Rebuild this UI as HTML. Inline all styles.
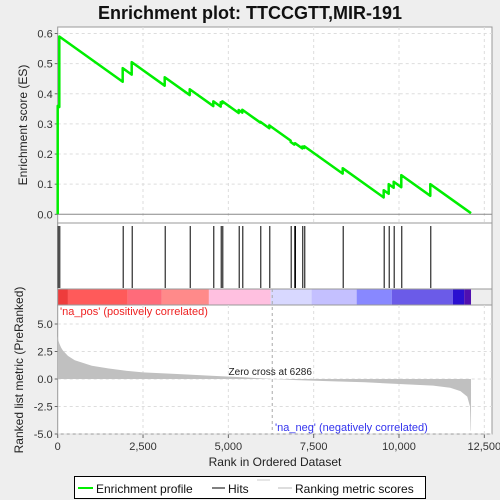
<!DOCTYPE html>
<html><head><meta charset="utf-8"><style>
body{margin:0;background:#eeeeee;}
svg{display:block;font-family:"Liberation Sans","DejaVu Sans",sans-serif;}
</style></head><body>
<svg id="chart" width="500" height="500" viewBox="0 0 500 500">
<rect x="0" y="0" width="500" height="500" fill="#eeeeee"/>
<text x="250" y="19" text-anchor="middle" font-size="18" font-weight="bold" fill="#111">Enrichment plot: TTCCGTT,MIR-191</text>
<g id="gtop"></g>
<g id="ghits"></g>
<g id="gbottom"></g>
<g>
<rect x="74.5" y="476.5" width="351" height="22" fill="#fff" stroke="#000"/>
<line x1="78" y1="488" x2="93" y2="488" stroke="#00ee00" stroke-width="2"/>
<text x="96" y="493" font-size="12" fill="#111">Enrichment profile</text>
<line x1="212" y1="488" x2="225" y2="488" stroke="#000" stroke-width="1"/>
<text x="228" y="493" font-size="12" fill="#111">Hits</text>
<line x1="257" y1="480" x2="270" y2="480" stroke="#ccc"/>
<line x1="278" y1="488" x2="292" y2="488" stroke="#bbb"/>
<text x="295" y="493" font-size="12" fill="#111">Ranking metric scores</text>
</g>
</svg>
<script>
const hitRanks=[0,47,1904,2168,3135,3868,4559,4776,4823,5303,5409,5936,6200,6826,6932,6952,7166,7225,8350,9551,9698,9844,10067,10917];
const esPeaks=[0.36,0.59,0.485,0.505,0.455,0.415,0.375,0.372,0.375,0.346,0.347,0.307,0.295,0.24,0.235,0.236,0.225,0.226,0.153,0.08,0.1,0.108,0.13,0.1];
const esTicks=[0,0.1,0.2,0.3,0.4,0.5,0.6];
const rankTicks=[0,2500,5000,7500,10000,12500];
const rankTickLabels=["0","2,500","5,000","7,500","10,000","12,500"];
const metricRanks=[0,20,50,100,150,300,500,1000,1500,2000,2500,3500,4500,5500,6286,7000,8000,9000,10000,11000,11500,11800,12000,12080,12100,12110];
const metricValues=[3.9,3.5,3.2,2.85,2.6,2.1,1.7,1.2,0.95,0.75,0.6,0.45,0.3,0.15,0,-0.1,-0.2,-0.3,-0.45,-0.6,-0.8,-1.1,-1.6,-2.5,-4.7,-4.7];
const metricTicks=[-5,-2.5,0,2.5,5];
const metricTickLabels=["-5.0","-2.5","0.0","2.5","5.0"];
const N=12110, zeroCross=6286;

const NS="http://www.w3.org/2000/svg";
const L=57.7,R=492;
function X(r){return L+r*0.03413;}
const esY=v=>214.3-v*301.3;
const mY=v=>379-v*11;
function mk(tag,attrs,parent,name,text){const e=document.createElementNS(NS,tag);for(const k in attrs)e.setAttribute(k,attrs[k]);


if(text!==undefined)e.textContent=text;parent.appendChild(e);return e;}
const gTop=document.getElementById('gtop'),gHits=document.getElementById('ghits'),gBot=document.getElementById('gbottom');

mk('rect',{x:L,y:27,width:R-L,height:196,fill:'#fff',stroke:'#999'},gTop,'es-plot-area');
rankTicks.forEach((t,i)=>{if(i>0)mk('line',{x1:X(t),y1:27,x2:X(t),y2:223,stroke:'#ddd','stroke-dasharray':'3,3'},gTop,'es-grid-x');});
esTicks.forEach(t=>{mk('line',{x1:L,y1:esY(t),x2:R,y2:esY(t),stroke:t===0?'#888':'#ddd','stroke-dasharray':t===0?'':'3,3'},gTop,'es-grid-y');
mk('line',{x1:L-3,y1:esY(t),x2:L,y2:esY(t),stroke:'#666'},gTop,'es-tick');
mk('text',{x:L-5,y:esY(t)+4,'text-anchor':'end','font-size':11,fill:'#333'},gTop,'es-tick-label',t.toFixed(1));});
mk('text',{x:0,y:0,transform:'translate(27,125) rotate(-90)','text-anchor':'middle','font-size':12,fill:'#222'},gTop,'es-axis-title','Enrichment score (ES)');
const slope=(0.59-0.44)/(1904-47);
let pts=[[X(0),esY(0)]];
for(let i=0;i<hitRanks.length;i++){
 if(i>0){const pre=esPeaks[i-1]-slope*(hitRanks[i]-hitRanks[i-1]);pts.push([X(hitRanks[i]),esY(pre)]);}
 pts.push([X(hitRanks[i]),esY(esPeaks[i])]);}
const lastV=esPeaks[esPeaks.length-1]-slope*(N-hitRanks[hitRanks.length-1]);
pts.push([X(N),esY(Math.max(0,lastV))]);
mk('polyline',{points:pts.map(p=>p.join(',')).join(' '),fill:'none',stroke:'#00ee00','stroke-width':2.5,'stroke-linejoin':'round'},gTop,'es-curve');

mk('rect',{x:L,y:223,width:R-L,height:66,fill:'#fff',stroke:'#999'},gHits,'hits-area');
hitRanks.forEach(r=>mk('line',{x1:X(r)+0.5,y1:226,x2:X(r)+0.5,y2:288,stroke:'#000','stroke-width':1},gHits,'hit-line'));
const cbSegs=[[0,300,'#ee3c3c'],[300,2050,'#ff5a5a'],[2050,3050,'#ff6b7a'],[3050,4430,'#ff8a8a'],[4430,6240,'#ffc0e0'],[6240,7440,'#d8d8ff'],[7440,8760,'#c4c0ff'],[8760,9790,'#8888ff'],[9790,11580,'#6b5be8'],[11580,11910,'#2a10d0'],[11910,12110,'#5010b0']];
cbSegs.forEach(s=>mk('rect',{x:X(s[0]),y:289,width:X(s[1])-X(s[0]),height:16,fill:s[2]},gHits,'color-bar-segment'));
mk('rect',{x:L,y:289,width:R-L,height:16,fill:'none',stroke:'#999'},gHits,'color-bar-border');

mk('rect',{x:L,y:305,width:R-L,height:129,fill:'#fff',stroke:'#999'},gBot,'metric-plot-area');
rankTicks.forEach((t,i)=>{if(i>0)mk('line',{x1:X(t),y1:305,x2:X(t),y2:434,stroke:'#ddd','stroke-dasharray':'3,3'},gBot,'metric-grid-x');
mk('line',{x1:X(t),y1:434,x2:X(t),y2:438,stroke:'#666'},gBot,'rank-tick');
mk('text',{x:X(t),y:450,'text-anchor':'middle','font-size':11,fill:'#333'},gBot,'rank-tick-label',rankTickLabels[i]);});
metricTicks.forEach((t,i)=>{mk('line',{x1:L,y1:mY(t),x2:R,y2:mY(t),stroke:'#ddd','stroke-dasharray':'3,3'},gBot,'metric-grid-y');
mk('line',{x1:L-3,y1:mY(t),x2:L,y2:mY(t),stroke:'#666'},gBot,'metric-tick');
mk('text',{x:L-5,y:mY(t)+4,'text-anchor':'end','font-size':11,fill:'#333'},gBot,'metric-tick-label',metricTickLabels[i]);});
let mp=[[X(0),mY(0)]];metricRanks.forEach((r,i)=>mp.push([X(r),mY(metricValues[i])]));mp.push([X(N),mY(0)]);
mk('polygon',{points:mp.map(p=>p.join(',')).join(' '),fill:'#c0c0c0',stroke:'none'},gBot,'metric-area');
mk('line',{x1:X(zeroCross),y1:289,x2:X(zeroCross),y2:434,stroke:'#aaa','stroke-dasharray':'3,3'},gBot,'zero-cross-line');
mk('text',{x:X(zeroCross)-2,y:375,'text-anchor':'middle','font-size':10,fill:'#222'},gBot,'zero-cross-label','Zero cross at '+zeroCross);
mk('text',{x:60,y:315,'font-size':11,fill:'#ee2222'},gBot,'na-pos-label',"'na_pos' (positively correlated)");
mk('text',{x:275,y:431,'font-size':11,fill:'#3333ee'},gBot,'na-neg-label',"'na_neg' (negatively correlated)");
mk('text',{x:0,y:0,transform:'translate(23,370) rotate(-90)','text-anchor':'middle','font-size':12,fill:'#222'},gBot,'metric-axis-title','Ranked list metric (PreRanked)');
mk('text',{x:275,y:466,'text-anchor':'middle','font-size':12,fill:'#222'},gBot,'rank-axis-title','Rank in Ordered Dataset');
</script>
</body></html>
